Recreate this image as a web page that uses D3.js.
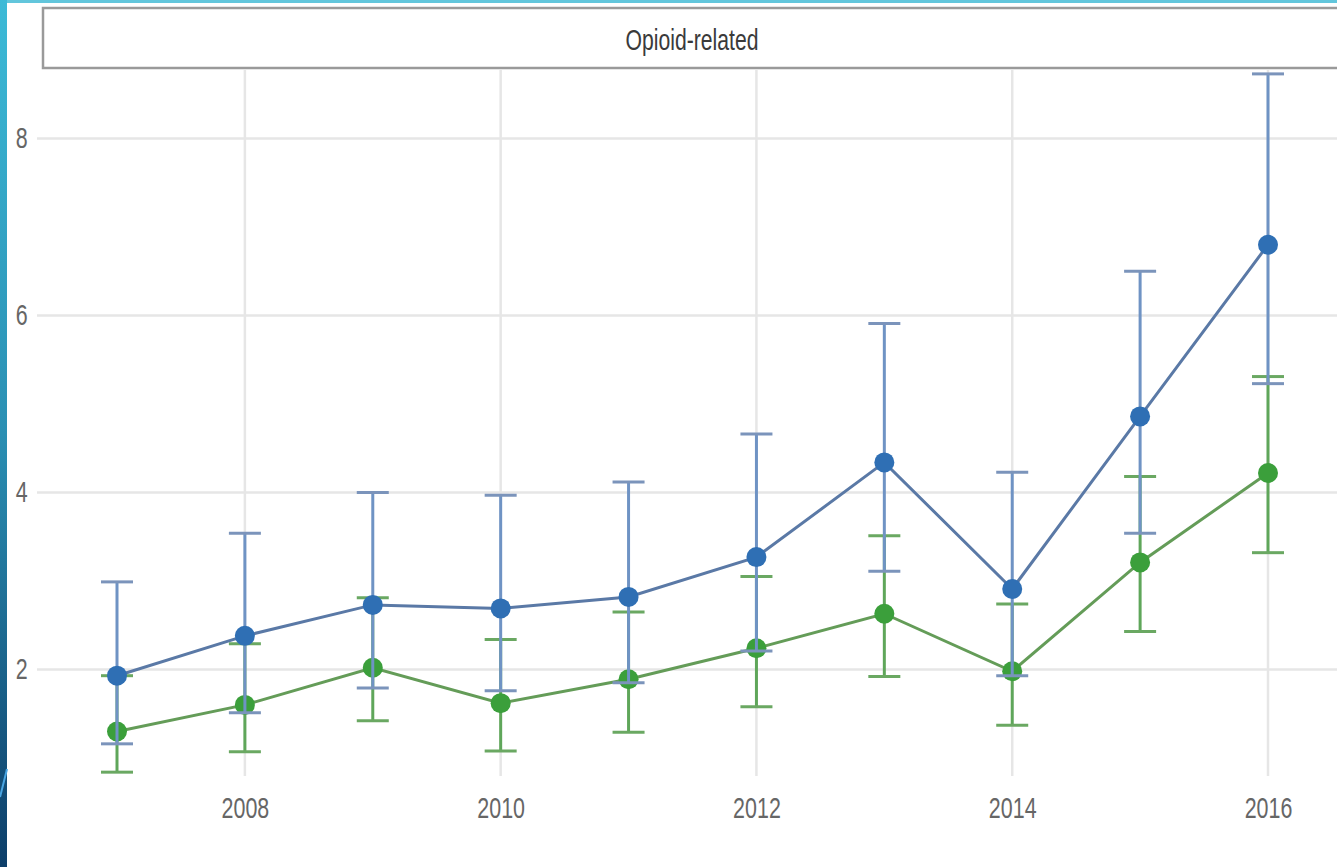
<!DOCTYPE html>
<html>
<head>
<meta charset="utf-8">
<script src="https://cdn.jsdelivr.net/npm/d3@7"></script>
<style>
  html, body { margin: 0; padding: 0; background: #fff; }
  svg { display: block; }
</style>
</head>
<body>
<div id="chart"></div>
<script>
// values
var years = [2007, 2008, 2009, 2010, 2011, 2012, 2013, 2014, 2015, 2016];

var blueMean  = [1.93, 2.38, 2.73, 2.69, 2.82, 3.27, 4.34, 2.91, 4.86, 6.80];
var blueLower = [1.16, 1.51, 1.79, 1.76, 1.85, 2.21, 3.11, 1.93, 3.54, 5.23];
var blueUpper = [2.99, 3.54, 4.00, 3.97, 4.12, 4.66, 5.91, 4.23, 6.50, 8.73];

var greenMean  = [1.30, 1.60, 2.02, 1.62, 1.89, 2.24, 2.63, 1.98, 3.21, 4.22];
var greenLower = [0.84, 1.07, 1.42, 1.08, 1.29, 1.58, 1.92, 1.37, 2.43, 3.32];
var greenUpper = [1.93, 2.29, 2.81, 2.34, 2.65, 3.05, 3.51, 2.74, 4.18, 5.31];

var xTicks = [2008, 2010, 2012, 2014, 2016];
var yTicks = [2, 4, 6, 8];
var stripLabel = "Opioid-related";

var W = 1337, H = 867;
var panel = {left: 37, right: 1337, top: 68, bottom: 776};

var svg = d3.select("#chart").append("svg")
    .attr("width", W).attr("height", H);

// slide decoration: gradient bar at the left, thin bar at the top
var grad = svg.append("defs").append("linearGradient")
    .attr("id", "sideGrad").attr("x1", 0).attr("y1", 0).attr("x2", 0).attr("y2", 1);
grad.append("stop").attr("offset", "0%").attr("stop-color", "#3cbad7");
grad.append("stop").attr("offset", "50%").attr("stop-color", "#2a8fb3");
grad.append("stop").attr("offset", "100%").attr("stop-color", "#0d3e69");

svg.append("rect").attr("x", 0).attr("y", 0).attr("width", W).attr("height", 3)
    .attr("fill", "#62c6dc");
svg.append("rect").attr("x", 0).attr("y", 0).attr("width", 7).attr("height", H)
    .attr("fill", "url(#sideGrad)");
svg.append("line").attr("x1", 0).attr("y1", 797).attr("x2", 7).attr("y2", 769)
    .attr("stroke", "#4aa6e3").attr("stroke-width", 2);

var x = d3.scaleLinear().domain([2007, 2016]).range([117, 1268]);
var y = d3.scaleLinear().domain([2, 8]).range([669.5, 138.5]);

// grid
var g = svg.append("g");
g.selectAll(".hgrid").data(yTicks).enter().append("line")
    .attr("x1", panel.left).attr("x2", panel.right)
    .attr("y1", function(d) { return y(d); }).attr("y2", function(d) { return y(d); })
    .attr("stroke", "#e6e6e6").attr("stroke-width", 2.5);
g.selectAll(".vgrid").data(xTicks).enter().append("line")
    .attr("x1", function(d) { return x(d); }).attr("x2", function(d) { return x(d); })
    .attr("y1", panel.top + 2).attr("y2", panel.bottom)
    .attr("stroke", "#e6e6e6").attr("stroke-width", 2.5);

// axes (labels only, squeezed horizontally like the picture)
var xAxis = svg.append("g")
    .attr("transform", "translate(0," + panel.bottom + ")")
    .call(d3.axisBottom(x).tickValues(xTicks).tickFormat(d3.format("d")).tickSize(0).tickPadding(21));
var yAxis = svg.append("g")
    .attr("transform", "translate(35,0)")
    .call(d3.axisLeft(y).tickValues(yTicks).tickFormat(d3.format("d")).tickSize(0).tickPadding(10));

[xAxis, yAxis].forEach(function(a) {
  a.select(".domain").remove();
  a.selectAll("text")
    .attr("font-family", "Liberation Sans, Arial, sans-serif")
    .attr("font-size", 29)
    .attr("fill", "#666")
    .attr("transform", "scale(0.74,1)");
});

// facet strip
svg.append("rect")
    .attr("x", 43).attr("y", 8).attr("width", 1300).attr("height", 60)
    .attr("fill", "#ffffff").attr("stroke", "#9a9a9a").attr("stroke-width", 2.5);
svg.append("text")
    .attr("transform", "translate(692,50) scale(0.73,1)")
    .attr("text-anchor", "middle")
    .attr("font-family", "Liberation Sans, Arial, sans-serif")
    .attr("font-size", 29)
    .attr("fill", "#3a3a3a")
    .text(stripLabel);

function series(mean, lower, upper, c) {
  var data = years.map(function(yr, i) {
    return {year: yr, mean: mean[i], lo: lower[i], hi: upper[i]};
  });
  var s = svg.append("g");

  s.selectAll(".bar").data(data).enter().append("line")
      .attr("x1", function(d) { return x(d.year); }).attr("x2", function(d) { return x(d.year); })
      .attr("y1", function(d) { return y(d.lo); }).attr("y2", function(d) { return y(d.hi); })
      .attr("stroke", c.bar).attr("stroke-width", 3);
  s.selectAll(".capHi").data(data).enter().append("line")
      .attr("x1", function(d) { return x(d.year) - 16; }).attr("x2", function(d) { return x(d.year) + 16; })
      .attr("y1", function(d) { return y(d.hi); }).attr("y2", function(d) { return y(d.hi); })
      .attr("stroke", c.cap).attr("stroke-width", 3);
  s.selectAll(".capLo").data(data).enter().append("line")
      .attr("x1", function(d) { return x(d.year) - 16; }).attr("x2", function(d) { return x(d.year) + 16; })
      .attr("y1", function(d) { return y(d.lo); }).attr("y2", function(d) { return y(d.lo); })
      .attr("stroke", c.cap).attr("stroke-width", 3);

  var line = d3.line()
      .x(function(d) { return x(d.year); })
      .y(function(d) { return y(d.mean); });
  s.append("path").datum(data)
      .attr("d", line)
      .attr("fill", "none").attr("stroke", c.line).attr("stroke-width", 3);

  s.selectAll("circle").data(data).enter().append("circle")
      .attr("cx", function(d) { return x(d.year); })
      .attr("cy", function(d) { return y(d.mean); })
      .attr("r", 10)
      .attr("fill", c.point);
}

series(greenMean, greenLower, greenUpper,
  {bar: "#5fa65a", cap: "#6aa862", line: "#649c58", point: "#3b9f3b"});
series(blueMean, blueLower, blueUpper,
  {bar: "#6f93c4", cap: "#7b94bb", line: "#5a79a6", point: "#2f6fb4"});
</script>
</body>
</html>
